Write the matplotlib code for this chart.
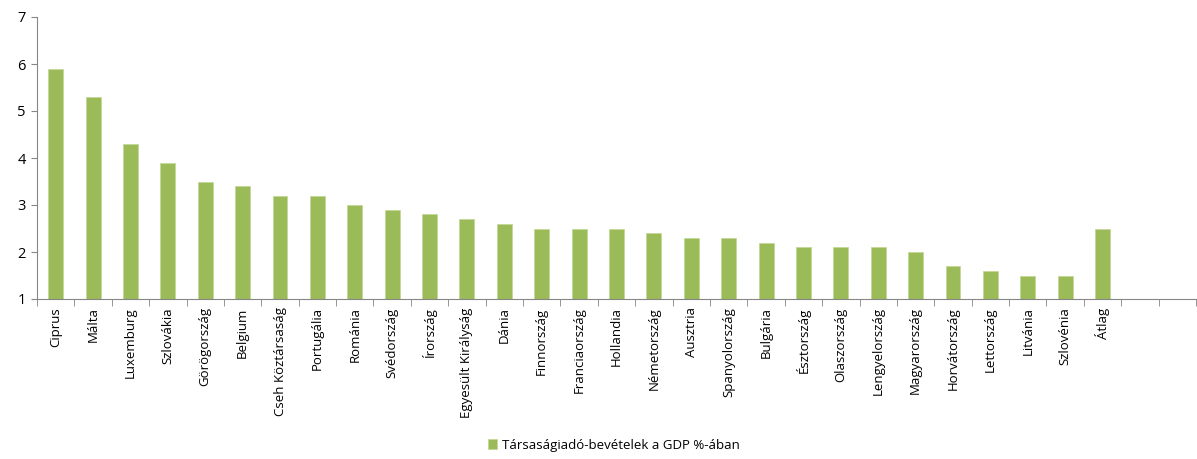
import numpy as np
import matplotlib.pyplot as plt

plt.rcParams['font.family'] = ['Open Sans', 'DejaVu Sans']

orszagok = ['Ciprus', 'Málta', 'Luxemburg', 'Szlovákia', 'Görögország', 'Belgium',
            'Cseh Köztársaság', 'Portugália', 'Románia', 'Svédország', 'Írország',
            'Egyesült Királyság', 'Dánia', 'Finnország', 'Franciaország', 'Hollandia',
            'Németország', 'Ausztria', 'Spanyolország', 'Bulgária', 'Észtország',
            'Olaszország', 'Lengyelország', 'Magyarország', 'Horvátország',
            'Lettország', 'Litvánia', 'Szlovénia', 'Átlag']
ertekek = [5.9, 5.3, 4.3, 3.9, 3.5, 3.4, 3.2, 3.2, 3.0, 2.9, 2.8, 2.7, 2.6, 2.5,
           2.5, 2.5, 2.4, 2.3, 2.3, 2.2, 2.1, 2.1, 2.1, 2.0, 1.7, 1.6, 1.5, 1.5, 2.5]
ures_helyek = 2  # empty slots after the last bar

fig = plt.figure(figsize=(11.97, 4.59), dpi=100)
ax = fig.add_axes([37 / 1197, 1 - 299 / 459, 1 - 37 / 1197 - 1 / 1197, (299 - 17) / 459])

x = np.arange(len(orszagok))
ax.bar(x, np.array(ertekek) - 1, bottom=1, width=0.4, color='#9BBB59',
       edgecolor='#C4D89A', linewidth=0.6, label='Társaságiadó-bevételek a GDP %-ában')

ax.set_xlim(-0.5, len(orszagok) + ures_helyek - 0.5)
ax.set_ylim(1, 7)
ax.set_yticks(range(1, 8))

ax.set_xticks(x)
ax.set_xticklabels(orszagok, rotation=90, fontsize=9.5)
ax.tick_params(axis='x', which='major', length=0, pad=6)
ax.set_xticks(np.arange(len(orszagok) + ures_helyek + 1) - 0.5, minor=True)
ax.tick_params(axis='x', which='minor', length=5, color='#868686')
ax.tick_params(axis='y', length=4, color='#868686', labelsize=10.5, pad=4)

for s in ['top', 'right']:
    ax.spines[s].set_visible(False)
for s in ['left', 'bottom']:
    ax.spines[s].set_color('#868686')

fig.legend(loc='lower center', bbox_to_anchor=(0.513, -0.01), frameon=False,
           fontsize=9.5, handlelength=0.7, handleheight=0.7, handletextpad=0.4)

fig.savefig('out.png', dpi=100)
